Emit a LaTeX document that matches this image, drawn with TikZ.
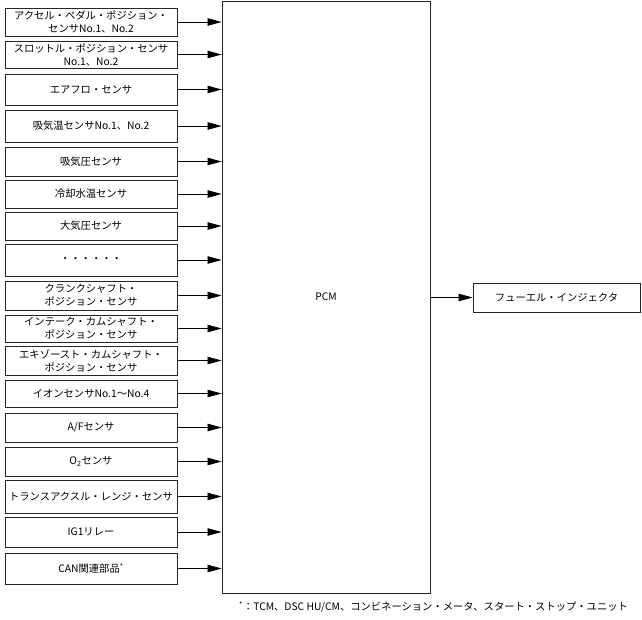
\documentclass[tikz,border=0pt]{standalone}
\usepackage{fontspec}
\setmainfont{Noto Sans CJK JP}
\usetikzlibrary{arrows.meta}
\begin{document}
\begin{tikzpicture}[x=1pt,y=-1pt,
  every node/.style={font=\fontsize{10.3}{13}\selectfont},
  inbox/.style={draw=black!85,line width=0.9pt,minimum width=172pt,inner sep=0pt,align=center},
  pcmbox/.style={draw=black!85,line width=0.9pt,minimum width=208pt,minimum height=592pt,inner sep=0pt},
  outbox/.style={draw=black!85,line width=0.9pt,minimum width=167pt,minimum height=29pt,inner sep=0pt},
  sig/.style={draw=black,line width=0.7pt,-{Triangle[length=14pt,width=7.5pt]}}]
\useasboundingbox (0,0) rectangle (642,619);
\node[pcmbox] (pcm) at (326,297) {PCM};
\node[outbox] (inj) at (556.5,297.5) {フューエル・インジェクタ};
\node[inbox,minimum height=28pt] (b1) at (91,22) {アクセル・ペダル・ポジション・\\センサNo.1、No.2};
\node[inbox,minimum height=27pt] (b2) at (91,54.5) {スロットル・ポジション・センサ\\No.1、No.2};
\node[inbox,minimum height=31pt] (b3) at (91,89.5) {エアフロ・センサ};
\node[inbox,minimum height=32pt] (b4) at (91,126) {吸気温センサNo.1、No.2};
\node[inbox,minimum height=29pt] (b5) at (91,161.5) {吸気圧センサ};
\node[inbox,minimum height=28pt] (b6) at (91,194) {冷却水温センサ};
\node[inbox,minimum height=28pt] (b7) at (91,226) {大気圧センサ};
\node[inbox,minimum height=32pt] (b8) at (91,260) {・・・・・・};
\node[inbox,minimum height=29pt] (b9) at (91,295.5) {クランクシャフト・\\ポジション・センサ};
\node[inbox,minimum height=27pt] (b10) at (91,328.5) {インテーク・カムシャフト・\\ポジション・センサ};
\node[inbox,minimum height=29pt] (b11) at (91,360.5) {エキゾースト・カムシャフト・\\ポジション・センサ};
\node[inbox,minimum height=27pt] (b12) at (91,393.5) {イオンセンサNo.1～No.4};
\node[inbox,minimum height=29pt] (b13) at (91,427.5) {A/Fセンサ};
\node[inbox,minimum height=29pt] (b14) at (91,461.5) {O\textsubscript{2}センサ};
\node[inbox,minimum height=33pt] (b15) at (91,496.5) {トランスアクスル・レンジ・センサ};
\node[inbox,minimum height=30pt] (b16) at (91,532) {IG1リレー};
\node[inbox,minimum height=31pt] (b17) at (91,568.5) {CAN関連部品\textsuperscript{*}};
\foreach \i in {1,...,17} {
  \draw[sig] (b\i.east) -- (b\i.east -| pcm.west);
}
\draw[sig] (pcm.east |- inj.west) -- (inj.west);
\node[anchor=west,inner sep=0pt] (note) at (239,607) {\textsuperscript{*}：TCM、DSC HU/CM、コンビネーション・メータ、スタート・ストップ・ユニット};
\end{tikzpicture}
\end{document}
